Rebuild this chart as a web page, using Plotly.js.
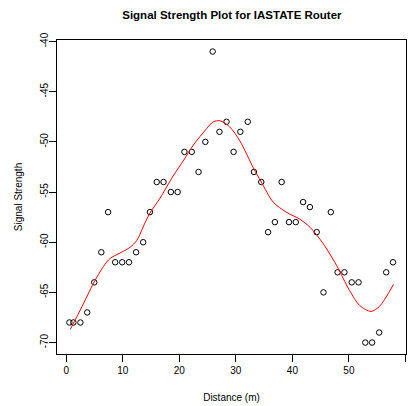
<!DOCTYPE html>
<html><head><meta charset="utf-8">
<script src="https://cdn.plot.ly/plotly-3.0.1.min.js"></script>
<style>html,body{margin:0;padding:0;background:#fff}#p{width:409px;height:406px}</style>
</head><body><div id="p"></div>
<script>
const distance = [0.55, 1.25, 2.5, 3.7, 4.95, 6.2, 7.4, 8.65, 9.9, 11.1, 12.35, 13.6, 14.8, 16.0, 17.2, 18.5, 19.7, 20.9, 22.2, 23.4, 24.6, 25.9, 27.1, 28.35, 29.6, 30.8, 32.1, 33.2, 34.5, 35.7, 36.9, 38.1, 39.4, 40.6, 41.9, 43.1, 44.3, 45.5, 46.8, 48.0, 49.2, 50.5, 51.7, 52.9, 54.1, 55.35, 56.6, 57.8];
const signal = [-68, -68, -68, -67, -64, -61, -57, -62, -62, -62, -61, -60, -57, -54, -54, -55, -55, -51, -51, -53, -50, -41, -49, -48, -51, -49, -48, -53, -54, -59, -58, -54, -58, -58, -56, -56.5, -59, -65, -57, -63, -63, -64, -64, -70, -70, -69, -63, -62];
const smoothX = [0.7, 2.8, 4.8, 6.6, 7.8, 9.8, 11.3, 12.5, 13.9, 14.8, 16.6, 18.9, 20.8, 22.5, 24.8, 26.0, 27.2, 28.9, 30.7, 33.1, 34.5, 36.6, 38.9, 41.3, 43.1, 45.4, 47.8, 50.1, 51.9, 53.9, 55.4, 57.9];
const smoothY = [-68.7, -66.4, -64.1, -62.4, -61.6, -61.0, -60.5, -59.8, -58.1, -57.1, -55.6, -53.4, -51.8, -50.3, -48.7, -48.0, -47.9, -48.5, -49.9, -52.6, -54.0, -56.0, -57.0, -57.7, -58.5, -60.1, -62.3, -64.8, -66.3, -66.9, -66.4, -64.2];
const xTicks = [0, 10, 20, 30, 40, 50, 60];
const yTicks = [-70, -65, -60, -55, -50, -45, -40];

const font = {family: 'Liberation Sans, Arial, sans-serif', size: 10, color: '#000'};
Plotly.newPlot('p', [
  {x: distance, y: signal, mode: 'markers', type: 'scatter',
   marker: {symbol: 'circle-open', size: 5.5, color: '#000', line: {width: 1, color: '#000'}}, hoverinfo: 'skip'},
  {x: smoothX, y: smoothY, mode: 'lines', type: 'scatter',
   line: {color: '#ff0000', width: 1, shape: 'spline', smoothing: 0.8}, hoverinfo: 'skip'}
], {
  width: 409, height: 406,
  margin: {l: 57, r: 3, t: 40, b: 52},
  showlegend: false,
  paper_bgcolor: '#fff', plot_bgcolor: '#fff',
  font: font,
  title: {text: '<b>Signal Strength Plot for IASTATE Router</b>', x: 0.567, xanchor: 'center', y: 0.964, yanchor: 'middle',
          font: {family: 'Liberation Sans, Arial, sans-serif', size: 11.5, color: '#000'}},
  xaxis: {range: [-1.64, 60.1], tickvals: xTicks, ticktext: xTicks.map(String), ticks: 'outside', ticklen: 7, tickwidth: 1, tickcolor: '#000',
          ticklabelstandoff: 0,
          showline: true, linecolor: '#000', linewidth: 1, mirror: true, showgrid: false, zeroline: false,
          title: {text: 'Distance (m)', standoff: 18, font: font}},
  yaxis: {range: [-71.14, -39.85], tickvals: yTicks, ticktext: yTicks.map(String), tickangle: -90, ticks: 'outside', ticklen: 7, tickwidth: 1, tickcolor: '#000',
          ticklabelstandoff: -3,
          showline: true, linecolor: '#000', linewidth: 1, mirror: true, showgrid: false, zeroline: false,
          title: {text: 'Signal Strength', standoff: 14, font: font}}
}, {staticPlot: true, displayModeBar: false});
</script></body></html>
